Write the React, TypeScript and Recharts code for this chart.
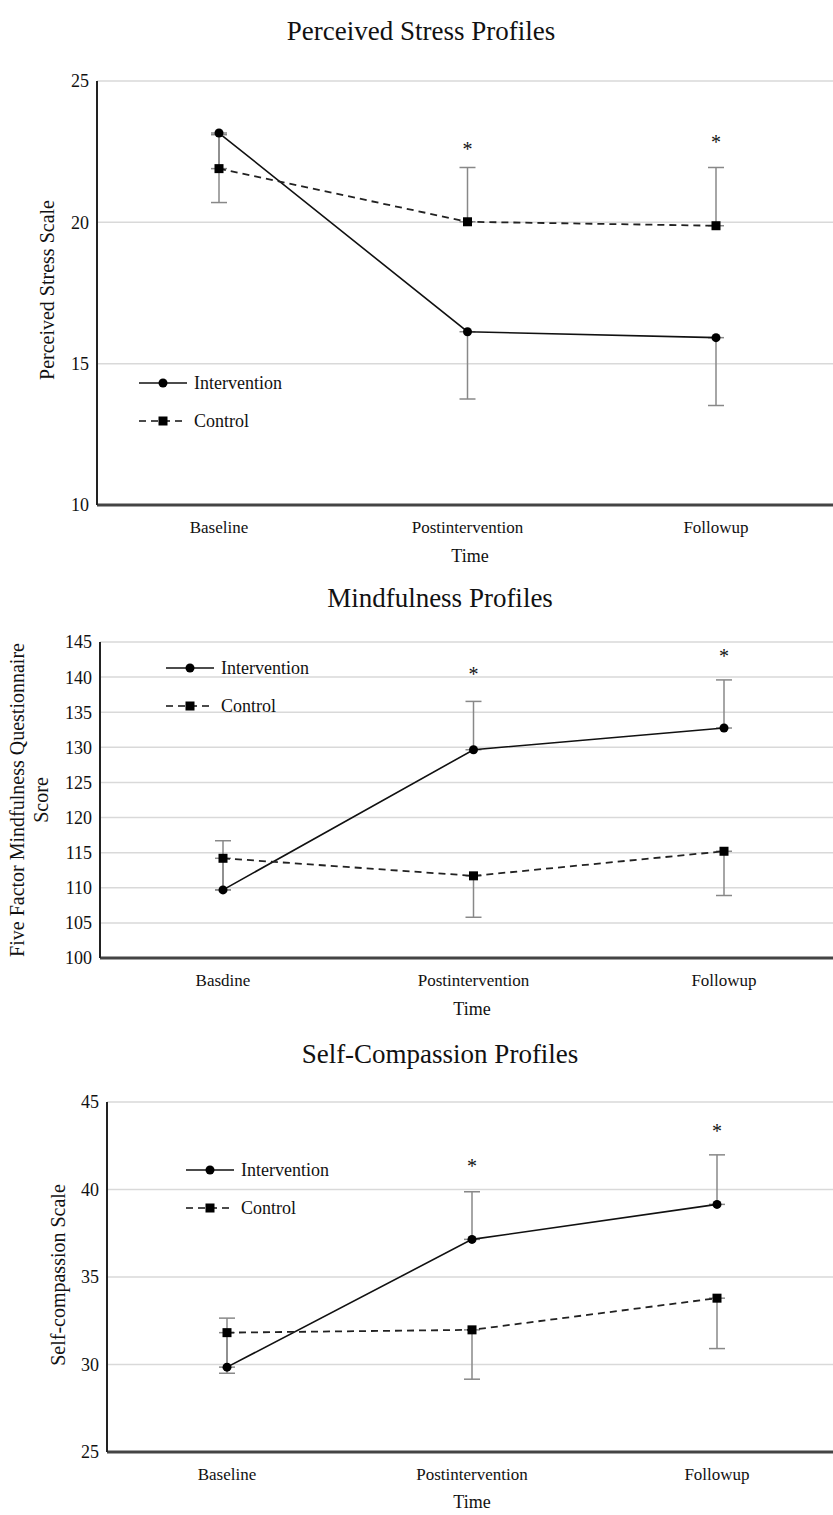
import React from "react";
import { CartesianGrid, ErrorBar, Line, LineChart, XAxis, YAxis } from "recharts";

const FONT = "'Liberation Serif', 'Times New Roman', serif";

const timeLabels = ["Baseline", "Postintervention", "Followup"];
const timeLabelsMindful = ["Basdine", "Postintervention", "Followup"];

// Perceived stress
const stressIntervention = [23.16, 16.13, 15.92];
const stressInterventionErrDown = [2.46, 2.38, 2.4];
const stressControl = [21.9, 20.02, 19.88];
const stressControlErrUp = [1.2, 1.92, 2.06];
const stressStars = [null, 22.7, 22.95];
const stressTicks = [10, 15, 20, 25];

// Mindfulness (FFMQ)
const mindIntervention = [109.7, 129.66, 132.75];
const mindInterventionErrUp = [7.0, 6.88, 6.85];
const mindControl = [114.2, 111.7, 115.2];
const mindControlErrDown = [4.5, 5.9, 6.3];
const mindStars = [null, 140.9, 143.4];
const mindTicks = [100, 105, 110, 115, 120, 125, 130, 135, 140, 145];

// Self-compassion
const scIntervention = [29.85, 37.15, 39.15];
const scInterventionErrUp = [2.8, 2.72, 2.83];
const scControl = [31.82, 31.98, 33.79];
const scControlErrDown = [2.32, 2.82, 2.88];
const scStars = [null, 41.5, 43.5];
const scTicks = [25, 30, 35, 40, 45];

function buildRows(
  labels: string[],
  inter: number[],
  interErr: [number, number][],
  ctrl: number[],
  ctrlErr: [number, number][],
  stars: (number | null)[]
) {
  return labels.map((time, i) => ({
    time,
    intervention: inter[i],
    iErr: interErr[i],
    control: ctrl[i],
    cErr: ctrlErr[i],
    star: stars[i],
  }));
}

const stressData = buildRows(
  timeLabels,
  stressIntervention,
  stressInterventionErrDown.map((e) => [e, 0] as [number, number]),
  stressControl,
  stressControlErrUp.map((e) => [0, e] as [number, number]),
  stressStars
);
const mindData = buildRows(
  timeLabelsMindful,
  mindIntervention,
  mindInterventionErrUp.map((e) => [0, e] as [number, number]),
  mindControl,
  mindControlErrDown.map((e) => [e, 0] as [number, number]),
  mindStars
);
const scData = buildRows(
  timeLabels,
  scIntervention,
  scInterventionErrUp.map((e) => [0, e] as [number, number]),
  scControl,
  scControlErrDown.map((e) => [e, 0] as [number, number]),
  scStars
);

const circleDot = (props: any) => {
  const { cx, cy, index } = props;
  if (cx == null || cy == null) return <g key={`c${index}`} />;
  return <circle key={`c${index}`} cx={cx} cy={cy} r={4.5} fill="#000" />;
};

const squareDot = (props: any) => {
  const { cx, cy, index } = props;
  if (cx == null || cy == null) return <g key={`s${index}`} />;
  return <rect key={`s${index}`} x={cx - 4.5} y={cy - 4.5} width={9} height={9} fill="#000" />;
};

const starDot = (props: any) => {
  const { cx, cy, index } = props;
  if (cx == null || cy == null) return <g key={`t${index}`} />;
  return (
    <text key={`t${index}`} x={cx} y={cy + 10} textAnchor="middle" fontSize={20} fontFamily={FONT} fill="#111">
      *
    </text>
  );
};

function LegendBox({ left, top }: { left: number; top: number }) {
  const row = (dashed: boolean, label: string) => (
    <div style={{ display: "flex", alignItems: "center", height: 38 }}>
      <svg width={50} height={14}>
        <line x1={1} x2={49} y1={7} y2={7} stroke="#111" strokeWidth={1.6} strokeDasharray={dashed ? "7 5" : undefined} />
        {dashed ? <rect x={20.5} y={2.5} width={9} height={9} fill="#000" /> : <circle cx={25} cy={7} r={4.5} fill="#000" />}
      </svg>
      <span style={{ marginLeft: 6, fontFamily: FONT, fontSize: 18, color: "#111" }}>{label}</span>
    </div>
  );
  return (
    <div style={{ position: "absolute", left, top: top - 19 }}>
      {row(false, "Intervention")}
      {row(true, "Control")}
    </div>
  );
}

interface PanelProps {
  data: any[];
  top: number;
  height: number;
  plotTop: number;
  plotBottom: number;
  plotLeft: number;
  padL: number;
  padR: number;
  domain: [number, number];
  ticks: number[];
}

function Panel(p: PanelProps) {
  const yWidth = 55;
  const xHeight = 30;
  return (
    <div style={{ position: "absolute", left: 0, top: p.top }}>
      <LineChart
        width={833}
        height={p.height}
        data={p.data}
        margin={{ top: p.plotTop, right: 0, left: p.plotLeft - yWidth, bottom: p.height - p.plotBottom - xHeight }}
      >
        <CartesianGrid vertical={false} stroke="#d9d9d9" strokeWidth={1.5} />
        <XAxis
          dataKey="time"
          height={xHeight}
          padding={{ left: p.padL, right: p.padR }}
          tickLine={false}
          tickSize={0}
          tickMargin={16}
          axisLine={{ stroke: "#444", strokeWidth: 3 }}
          tick={{ fontSize: 17, fontFamily: FONT, fill: "#111" }}
        />
        <YAxis
          width={yWidth}
          domain={p.domain}
          ticks={p.ticks}
          allowDataOverflow
          tickLine={false}
          tickSize={0}
          tickMargin={8}
          axisLine={{ stroke: "#222", strokeWidth: 2 }}
          tick={{ fontSize: 18, fontFamily: FONT, fill: "#111" }}
        />
        <Line
          dataKey="intervention"
          name="Intervention"
          stroke="#111"
          strokeWidth={1.6}
          dot={circleDot}
          activeDot={false}
          isAnimationActive={false}
        >
          <ErrorBar dataKey="iErr" direction="y" width={8} stroke="#888" strokeWidth={1.5} />
        </Line>
        <Line
          dataKey="control"
          name="Control"
          stroke="#222"
          strokeWidth={1.8}
          strokeDasharray="7 5"
          dot={squareDot}
          activeDot={false}
          isAnimationActive={false}
        >
          <ErrorBar dataKey="cErr" direction="y" width={8} stroke="#888" strokeWidth={1.5} />
        </Line>
        <Line
          dataKey="star"
          stroke="none"
          dot={starDot}
          activeDot={false}
          legendType="none"
          isAnimationActive={false}
        />
      </LineChart>
    </div>
  );
}

const textAt = (x: number, y: number, size: number, content: React.ReactNode, rotate = false) => (
  <div
    style={{
      position: "absolute",
      left: x,
      top: y,
      transform: `translate(-50%, -50%)${rotate ? " rotate(-90deg)" : ""}`,
      whiteSpace: "nowrap",
      fontFamily: FONT,
      fontSize: size,
      color: "#111",
      textAlign: "center",
      lineHeight: 1.2,
    }}
  >
    {content}
  </div>
);

export default function App() {
  return (
    <div style={{ position: "absolute", left: 0, top: 0, width: 833, height: 1515, background: "#fff", overflow: "hidden" }}>
      <Panel
        data={stressData}
        top={0}
        height={570}
        plotTop={81}
        plotBottom={505}
        plotLeft={97}
        padL={122}
        padR={117}
        domain={[10, 25]}
        ticks={stressTicks}
      />
      <Panel
        data={mindData}
        top={570}
        height={490}
        plotTop={72}
        plotBottom={388}
        plotLeft={100}
        padL={123}
        padR={109}
        domain={[100, 145]}
        ticks={mindTicks}
      />
      <Panel
        data={scData}
        top={1060}
        height={455}
        plotTop={42}
        plotBottom={392}
        plotLeft={107}
        padL={120}
        padR={116}
        domain={[25, 45]}
        ticks={scTicks}
      />
      <LegendBox left={138} top={383} />
      <LegendBox left={165} top={668} />
      <LegendBox left={185} top={1170} />

      {textAt(421, 31, 27, "Perceived Stress Profiles")}
      {textAt(470, 557, 18, "Time")}
      {textAt(47, 290, 20, "Perceived Stress Scale", true)}

      {textAt(440, 598, 27, "Mindfulness Profiles")}
      {textAt(472, 1010, 18, "Time")}
      {textAt(29, 800, 20, <>Five Factor Mindfulness Questionnaire<br />Score</>, true)}

      {textAt(440, 1054, 27, "Self-Compassion Profiles")}
      {textAt(472, 1503, 18, "Time")}
      {textAt(58, 1275, 20, "Self-compassion Scale", true)}
    </div>
  );
}
